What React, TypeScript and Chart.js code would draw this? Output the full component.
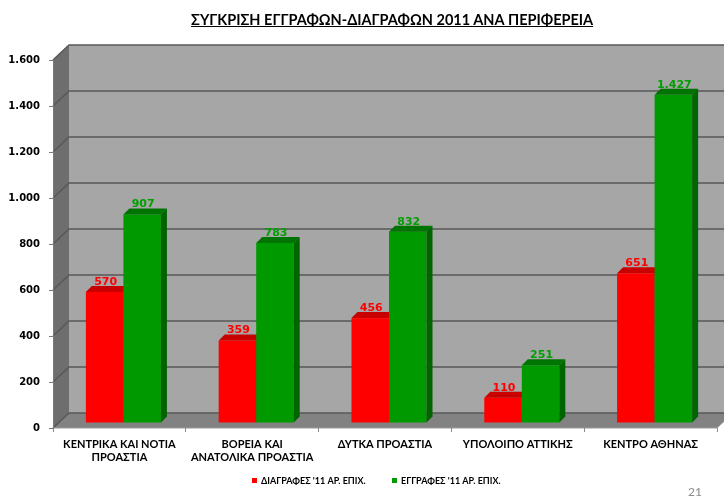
import React, { useEffect, useRef } from "react";
import { Chart, registerables } from "chart.js";

Chart.register(...registerables);

const categories: (string | string[])[] = [
  ["ΚΕΝΤΡΙΚΑ ΚΑΙ ΝΟΤΙΑ", "ΠΡΟΑΣΤΙΑ"],
  ["ΒΟΡΕΙΑ ΚΑΙ", "ΑΝΑΤΟΛΙΚΑ ΠΡΟΑΣΤΙΑ"],
  "ΔΥΤΚΑ ΠΡΟΑΣΤΙΑ",
  "ΥΠΟΛΟΙΠΟ ΑΤΤΙΚΗΣ",
  "ΚΕΝΤΡΟ ΑΘΗΝΑΣ",
];
const deletions = [570, 359, 456, 110, 651];
const registrations = [907, 783, 832, 251, 1427];
const seriesNames = ["ΔΙΑΓΡΑΦΕΣ '11 ΑΡ. ΕΠΙΧ.", "ΕΓΓΡΑΦΕΣ '11 ΑΡ. ΕΠΙΧ."];
const titleText = "ΣΥΓΚΡΙΣΗ ΕΓΓΡΑΦΩΝ-ΔΙΑΓΡΑΦΩΝ 2011 ΑΝΑ ΠΕΡΙΦΕΡΕΙΑ";
const yTicks = [0, 200, 400, 600, 800, 1000, 1200, 1400, 1600];

const fmt = (v: number) => String(Math.round(v)).replace(/\B(?=(\d{3})+(?!\d))/g, ".");

const WALL_DX = 16;
const WALL_DY = -15;
const BAR_DX = 4;
const BAR_DY = -5;
const DEPTH = 6;

const palette = [
  { front: "#ff0000", top: "#c80000", side: "#b00000", label: "#ff0000" },
  { front: "#009900", top: "#007400", side: "#006400", label: "#00a000" },
];

const threeD = {
  id: "threeD",
  beforeDraw(chart: any) {
    const { ctx, chartArea } = chart;
    const { left: L, right: R, top: T, bottom: B } = chartArea;
    const y = chart.scales.y;
    ctx.save();
    ctx.fillStyle = "#6e6e6e";
    ctx.beginPath();
    ctx.moveTo(L, T);
    ctx.lineTo(L + WALL_DX, T + WALL_DY);
    ctx.lineTo(L + WALL_DX, B + WALL_DY);
    ctx.lineTo(L, B);
    ctx.closePath();
    ctx.fill();
    ctx.fillStyle = "#a6a6a6";
    ctx.fillRect(L + WALL_DX, T + WALL_DY, R - L, B - T);
    ctx.fillStyle = "#828282";
    ctx.beginPath();
    ctx.moveTo(L, B);
    ctx.lineTo(L + WALL_DX, B + WALL_DY);
    ctx.lineTo(R + WALL_DX, B + WALL_DY);
    ctx.lineTo(R, B);
    ctx.closePath();
    ctx.fill();
    ctx.strokeStyle = "#585858";
    ctx.lineWidth = 1.5;
    yTicks.forEach((v) => {
      const py = y.getPixelForValue(v);
      ctx.beginPath();
      ctx.moveTo(L, py);
      ctx.lineTo(L + WALL_DX, py + WALL_DY);
      ctx.lineTo(R + WALL_DX, py + WALL_DY);
      ctx.stroke();
    });
    ctx.strokeStyle = "#9a9a9a";
    ctx.lineWidth = 1;
    ctx.beginPath();
    ctx.moveTo(L, B);
    ctx.lineTo(R, B);
    ctx.lineTo(R + WALL_DX, B + WALL_DY);
    ctx.stroke();
    ctx.restore();
  },
  afterDatasetsDraw(chart: any) {
    const { ctx } = chart;
    ctx.save();
    ctx.translate(BAR_DX, BAR_DY);
    chart.data.datasets.forEach((ds: any, di: number) => {
      const meta = chart.getDatasetMeta(di);
      const c = palette[di];
      meta.data.forEach((bar: any) => {
        const { x, y, width, base } = bar.getProps(["x", "y", "width", "base"], true);
        const x0 = x - width / 2;
        const x1 = x + width / 2;
        ctx.fillStyle = c.front;
        ctx.fillRect(x0, y, width, base - y);
        ctx.fillStyle = c.top;
        ctx.beginPath();
        ctx.moveTo(x0, y);
        ctx.lineTo(x0 + DEPTH, y - DEPTH);
        ctx.lineTo(x1 + DEPTH, y - DEPTH);
        ctx.lineTo(x1, y);
        ctx.closePath();
        ctx.fill();
        ctx.fillStyle = c.side;
        ctx.beginPath();
        ctx.moveTo(x1, y);
        ctx.lineTo(x1 + DEPTH, y - DEPTH);
        ctx.lineTo(x1 + DEPTH, base - DEPTH);
        ctx.lineTo(x1, base);
        ctx.closePath();
        ctx.fill();
      });
    });
    ctx.font = "bold 11px 'DejaVu Sans'";
    ctx.textAlign = "center";
    ctx.textBaseline = "alphabetic";
    chart.data.datasets.forEach((ds: any, di: number) => {
      const meta = chart.getDatasetMeta(di);
      ctx.fillStyle = palette[di].label;
      meta.data.forEach((bar: any, i: number) => {
        const { x, y } = bar.getProps(["x", "y"], true);
        ctx.fillText(fmt(ds.data[i]), x + 1, y - DEPTH - 1);
      });
    });
    ctx.restore();

    ctx.save();
    ctx.font = "bold 9px Lato";
    ctx.textBaseline = "middle";
    ctx.textAlign = "left";
    const legendX = [252, 392];
    chart.data.datasets.forEach((ds: any, di: number) => {
      ctx.fillStyle = palette[di].front;
      ctx.fillRect(legendX[di], 478, 5, 5);
      ctx.fillStyle = "#000";
      ctx.fillText(ds.label, legendX[di] + 9, 481);
    });
    ctx.restore();
  },
};

export default function App() {
  const ref = useRef<HTMLCanvasElement>(null);
  useEffect(() => {
    document.body.style.margin = "0";
    const chart = new Chart(ref.current!, {
      type: "bar",
      data: {
        labels: categories,
        datasets: [
          { label: seriesNames[0], data: deletions, backgroundColor: "rgba(0,0,0,0)" },
          { label: seriesNames[1], data: registrations, backgroundColor: "rgba(0,0,0,0)" },
        ],
      },
      options: {
        animation: false,
        responsive: false,
        layout: { padding: { left: 0, right: 7, top: 60, bottom: 0 } },
        plugins: {
          legend: { display: false },
          title: { display: false },
          tooltip: { enabled: false },
        },
        datasets: { bar: { categoryPercentage: 0.565, barPercentage: 1 } },
        scales: {
          x: {
            grid: { drawOnChartArea: false, drawTicks: true, tickLength: 4, color: "#8a8a8a", offset: true },
            border: { display: false },
            ticks: { color: "#000", font: { family: "Lato", weight: "bold", size: 11 }, padding: 6, maxRotation: 0, autoSkip: false },
            afterFit: (s: any) => { s.height = 70; },
          },
          y: {
            min: 0,
            max: 1600,
            afterBuildTicks: (s: any) => { s.ticks = yTicks.map((v) => ({ value: v })); },
            grid: { drawOnChartArea: false, drawTicks: true, tickLength: 4, color: "#7a7a7a" },
            border: { display: true, color: "#7a7a7a" },
            ticks: {
              color: "#000",
              font: { family: "DejaVu Sans", weight: "bold", size: 10 },
              padding: 9,
              callback: (v: any) => fmt(Number(v)),
            },
            afterFit: (s: any) => { s.width = 53; },
          },
        },
      } as any,
      plugins: [threeD],
    });
    return () => chart.destroy();
  }, []);
  return (
    <div style={{ position: "relative", width: 724, height: 498, background: "#fff", overflow: "hidden" }}>
      <canvas ref={ref} width={724} height={498} style={{ position: "absolute", left: 0, top: 0 }} />
      <div
        style={{
          position: "absolute",
          left: 191,
          top: 11,
          width: 400,
          textAlign: "center",
          fontFamily: "Lato",
          fontWeight: "bold",
          fontSize: 14.5,
          textDecoration: "underline",
          color: "#000",
          whiteSpace: "nowrap",
        }}
      >
        {titleText}
      </div>
      <div style={{ position: "absolute", left: 688, top: 484, fontFamily: "Lato", fontSize: 12, color: "#8c8c8c" }}>21</div>
    </div>
  );
}
